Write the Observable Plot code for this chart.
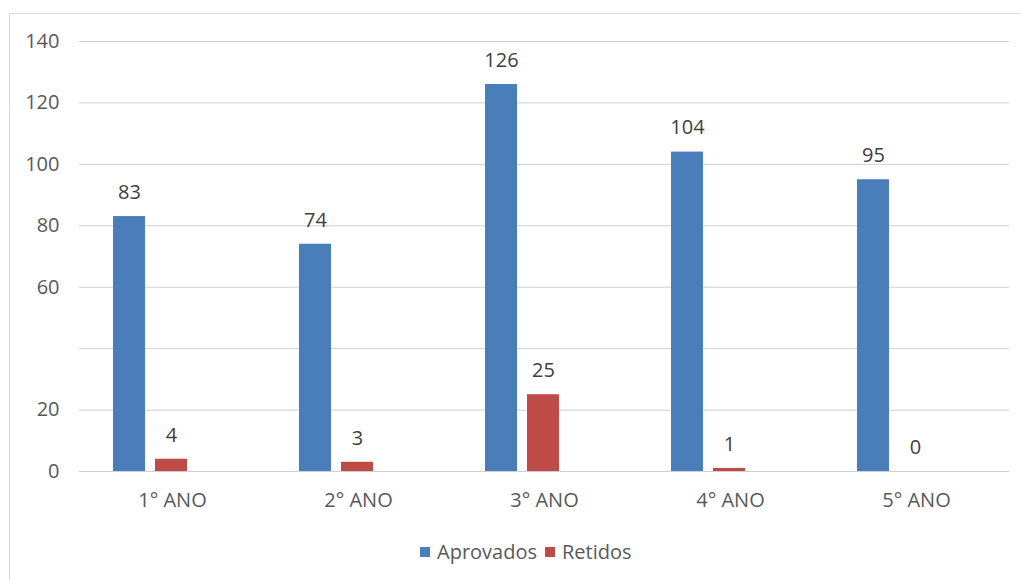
<!DOCTYPE html>
<html>
<head>
<meta charset="utf-8">
<script src="https://cdn.jsdelivr.net/npm/d3@7"></script>
<script src="https://cdn.jsdelivr.net/npm/@observablehq/plot@0.6"></script>
<style>
  body { margin: 0; background: #fff; font-family: "Open Sans", sans-serif; }
  #wrap { position: relative; width: 1021px; height: 580px; overflow: hidden; }
  #chart { position: absolute; left: 0; top: 0; }
  #frame { position: absolute; left: 9px; top: 13px; width: 1100px; height: 700px; border: 1px solid #d9d9d9; pointer-events: none; }
  #legend { position: absolute; top: 538px; left: 420px; display: flex; align-items: center; font-size: 20px; color: #595959; white-space: nowrap; }
  #legend .sw { width: 10px; height: 10px; display: inline-block; margin-right: 7px; }
  #legend .item { display: flex; align-items: center; margin-right: 8px; }
</style>
</head>
<body>
<div id="wrap">
  <div id="chart"></div>
  <div id="legend"></div>
  <div id="frame"></div>
</div>
<script>
// School years
const categories = ["1° ANO", "2° ANO", "3° ANO", "4° ANO", "5° ANO"];
// Series
const series = ["Aprovados", "Retidos"];
const colors = ["#4a7ebb", "#be4b48"];
// Values per series
const aprovados = [83, 74, 126, 104, 95];
const retidos = [4, 3, 25, 1, 0];
// Y axis
const yGridTicks = [0, 20, 40, 60, 80, 100, 120, 140];
const yTickLabels = [0, 20, 60, 80, 100, 120, 140];

const rows = categories.flatMap((ano, i) => [
  {ano, serie: series[0], valor: aprovados[i]},
  {ano, serie: series[1], valor: retidos[i]}
]);

const chart = Plot.plot({
  width: 1021,
  height: 525,
  marginLeft: 77,
  marginRight: 11,
  marginTop: 41,
  marginBottom: 54,
  style: {fontFamily: "Open Sans", fontSize: "20px", color: "#595959", background: "transparent", overflow: "visible"},
  fx: {domain: categories, padding: 0, label: null},
  x: {domain: series, axis: null, paddingInner: 10 / 42, paddingOuter: 4 / 3, align: 0.3},
  y: {domain: [0, 140], axis: null},
  color: {domain: series, range: colors},
  marks: [
    Plot.gridY(yGridTicks, {stroke: "#d0d0d0", strokeOpacity: 1}),
    Plot.barY(rows, {fx: "ano", x: "serie", y: "valor", fill: "serie"}),
    Plot.text(rows, {fx: "ano", x: "serie", y: "valor", text: d => String(d.valor), dy: -24, fill: "#404040", fontSize: 20}),
    Plot.axisY(yTickLabels, {tickSize: 0, tickPadding: 20, label: null, fill: "#595959"}),
    Plot.axisFx({anchor: "bottom", tickSize: 0, tickPadding: 21, label: null, fill: "#595959"})
  ]
});
document.getElementById("chart").append(chart);

const legend = document.getElementById("legend");
series.forEach((s, i) => {
  const item = document.createElement("span");
  item.className = "item";
  const sw = document.createElement("span");
  sw.className = "sw";
  sw.style.background = colors[i];
  item.append(sw, document.createTextNode(s));
  legend.append(item);
});
</script>
</body>
</html>
